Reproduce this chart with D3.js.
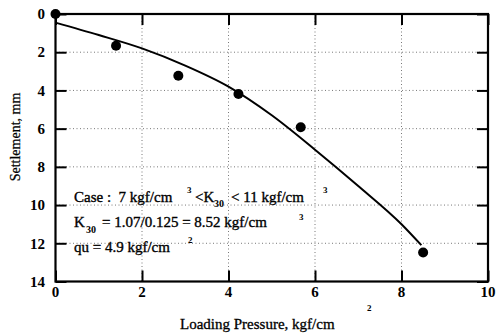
<!DOCTYPE html>
<html><head><meta charset="utf-8">
<script src="https://cdn.jsdelivr.net/npm/d3@7"></script>
<style>html,body{margin:0;padding:0;background:#fff;}svg{display:block;} svg text{font-family:"Liberation Serif","DejaVu Serif",serif;white-space:pre;}</style>
</head><body>
<svg id="c" width="496" height="333"></svg>
<script>
// data
const xTicks = [0, 2, 4, 6, 8, 10];
const yTicks = [0, 2, 4, 6, 8, 10, 12, 14];
const pointX = [0, 1.4, 2.84, 4.23, 5.67, 8.5];
const pointY = [0, 1.66, 3.23, 4.19, 5.93, 12.48];
const curveX = [0, 1, 2, 3, 4, 5, 6, 7, 8, 8.46];
const curveY = [0.45, 1.1, 1.8, 2.7, 3.8, 5.3, 7.1, 9.0, 11.0, 12.1];
const xTitle = "Loading Pressure, kgf/cm";
const yTitle = "Settlement, mm";

const svg = d3.select("#c");
const L = 55.5, R = 488, T = 14, B = 281.5;
const x = d3.scaleLinear().domain([0, 10]).range([L, R]);
const y = d3.scaleLinear().domain([0, 14]).range([T, B]);

// grid
const g = svg.append("g");
g.selectAll("line.gx").data(xTicks.slice(1, -1)).enter().append("line")
  .attr("x1", d => x(d)).attr("x2", d => x(d)).attr("y1", T).attr("y2", B)
  .attr("stroke", "#555").attr("stroke-width", 0.8).attr("stroke-dasharray", "1 2.5");
g.selectAll("line.gy").data(yTicks.slice(1, -1)).enter().append("line")
  .attr("y1", d => y(d)).attr("y2", d => y(d)).attr("x1", L).attr("x2", R)
  .attr("stroke", "#555").attr("stroke-width", 0.8).attr("stroke-dasharray", "1 2.5");

// axes with inward ticks
const tl = 11;
const style = a => { a.select(".domain").remove(); a.selectAll("line").attr("stroke", "#000").attr("stroke-width", 2); };
svg.append("g").attr("transform", `translate(0,${B})`)
  .call(d3.axisBottom(x).tickValues(xTicks).tickSize(-tl).tickFormat("")).call(style);
svg.append("g").attr("transform", `translate(0,${T})`)
  .call(d3.axisTop(x).tickValues(xTicks).tickSize(-tl).tickFormat("")).call(style);
svg.append("g").attr("transform", `translate(${L},0)`)
  .call(d3.axisLeft(y).tickValues(yTicks).tickSize(-tl).tickFormat("")).call(style);
svg.append("g").attr("transform", `translate(${R},0)`)
  .call(d3.axisRight(y).tickValues(yTicks).tickSize(-tl).tickFormat("")).call(style);

// frame
svg.append("rect").attr("x", L).attr("y", T).attr("width", R - L).attr("height", B - T)
  .attr("fill", "none").attr("stroke", "#000").attr("stroke-width", 2.2);

// tick labels
svg.selectAll("text.xl").data(xTicks).enter().append("text")
  .attr("x", d => x(d)).attr("y", 297).attr("text-anchor", "middle")
  .attr("font-size", 15).attr("font-weight", "bold").text(d => d);
svg.selectAll("text.yl").data(yTicks).enter().append("text")
  .attr("x", 45).attr("y", d => y(d)).attr("dy", "0.35em").attr("text-anchor", "end")
  .attr("font-size", 15).attr("font-weight", "bold").text(d => d);

// titles
svg.append("text").attr("x", 180).attr("y", 329).attr("font-size", 15)
  .attr("stroke", "#000").attr("stroke-width", 0.3).text(xTitle);
svg.append("text").attr("x", 367).attr("y", 311).attr("font-size", 9).attr("font-weight", "bold").text("2");
svg.append("text").attr("transform", "translate(20,137) rotate(-90)").attr("text-anchor", "middle")
  .attr("font-size", 14).attr("stroke", "#000").attr("stroke-width", 0.25).text(yTitle);

// curve
const curve = curveX.map((d, i) => [d, curveY[i]]);
svg.append("path").datum(curve)
  .attr("d", d3.line().x(d => x(d[0])).y(d => y(d[1])).curve(d3.curveMonotoneX))
  .attr("fill", "none").attr("stroke", "#000").attr("stroke-width", 2);

// points
svg.selectAll("circle.p").data(pointX.map((d, i) => [d, pointY[i]])).enter().append("circle")
  .attr("cx", d => x(d[0])).attr("cy", d => y(d[1])).attr("r", 5).attr("fill", "#000");

// annotation
const ann = svg.append("g").attr("fill", "#000");
const t = (s, xx, yy, size, w) => ann.append("text").attr("x", xx).attr("y", yy)
  .attr("font-size", size || 15).attr("font-weight", w || "normal")
  .attr("stroke", w ? null : "#000").attr("stroke-width", w ? null : 0.35).text(s);
t("Case :  7 kgf/cm", 74, 202);
t("3", 187, 193, 9, "bold");
t("<K", 195, 202);
t("30", 214, 207, 10, "bold");
t("< 11 kgf/cm", 231, 202);
t("3", 323, 193, 9, "bold");
t("K", 74, 227);
t("30", 86, 233, 10, "bold");
t("= 1.07/0.125 = 8.52 kgf/cm", 102, 227);
t("3", 299, 220, 9, "bold");
t("qu = 4.9 kgf/cm", 74, 252);
t("2", 188, 243, 9, "bold");
</script>
</body></html>
